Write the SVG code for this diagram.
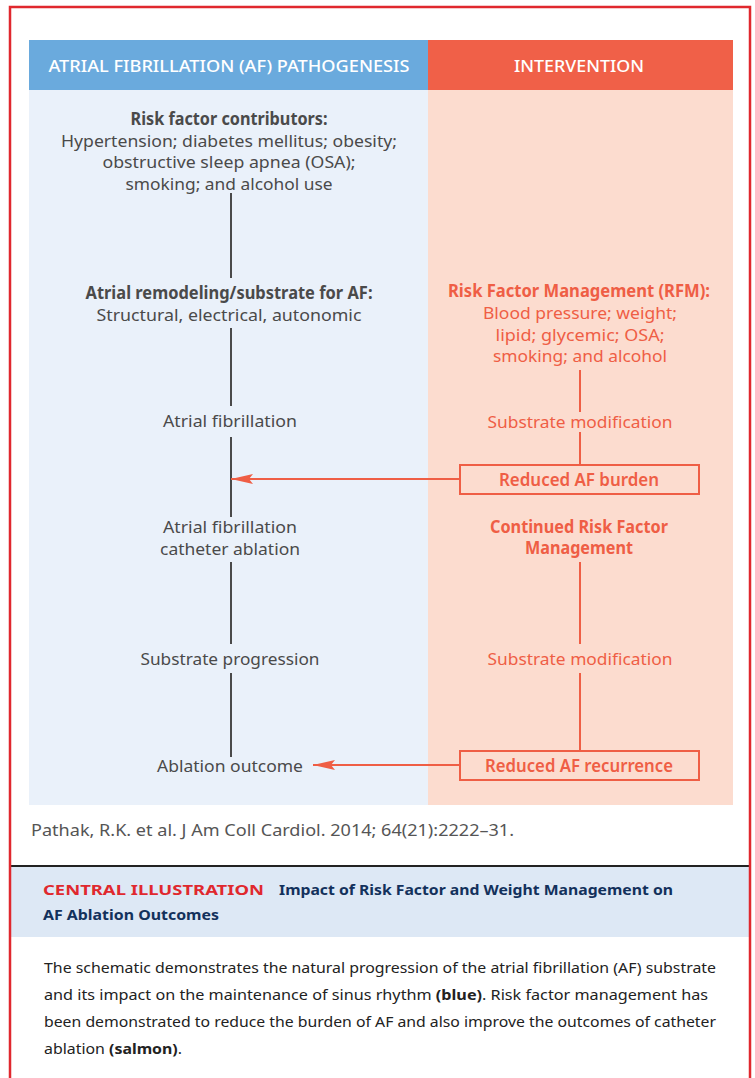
<svg xmlns="http://www.w3.org/2000/svg" width="755" height="1078" viewBox="0 0 755 1078">
<defs>
<style>
text{font-family:"Noto Sans","Open Sans","DejaVu Sans",sans-serif}
.hd{font-size:17px;fill:#fff;text-anchor:middle;font-weight:500}
.g{font-size:17px;fill:#4a4a4a;text-anchor:middle}
.gb{font-weight:bold}
.s{font-size:17px;fill:#ef5e45;text-anchor:middle}
.bx{font-weight:600}
.ln{stroke:#4a4a4a;stroke-width:2;fill:none}
.sl{stroke:#ef5e45;stroke-width:2;fill:none}
.box{stroke:#ef5e45;stroke-width:2;fill:none}
.cap{font-size:15px;fill:#222}
</style>
<marker id="ah" viewBox="0 0 22 10" refX="22" refY="5" markerWidth="22" markerHeight="10" markerUnits="userSpaceOnUse" orient="auto">
<path d="M0,0 L22,5 L0,10 L4,5 Z" fill="#ef5e45"/>
</marker>
</defs>
<rect width="755" height="1078" fill="#fff"/>
<g id="panels">
<rect x="29" y="90" width="399" height="715" fill="#eaf1fa"/>
<rect x="428" y="90" width="305" height="715" fill="#fcdccf"/>
<rect x="29" y="40" width="399" height="50" fill="#6aaadd"/>
<rect x="428" y="40" width="305" height="50" fill="#f06048"/>
<text class="hd" x="229" y="72" textLength="361" lengthAdjust="spacingAndGlyphs">ATRIAL FIBRILLATION (AF) PATHOGENESIS</text>
<text class="hd" x="579" y="72" textLength="130" lengthAdjust="spacingAndGlyphs">INTERVENTION</text>
</g>
<g id="connectors">
<line class="ln" x1="231" y1="193" x2="231" y2="278"/>
<line class="ln" x1="231" y1="328" x2="231" y2="406"/>
<line class="ln" x1="231" y1="437" x2="231" y2="517"/>
<line class="ln" x1="231" y1="562" x2="231" y2="644"/>
<line class="ln" x1="231" y1="673" x2="231" y2="757"/>
<line class="sl" x1="580" y1="370" x2="580" y2="412"/>
<line class="sl" x1="580" y1="432" x2="580" y2="465"/>
<line class="sl" x1="580" y1="562" x2="580" y2="644"/>
<line class="sl" x1="580" y1="673" x2="580" y2="751"/>
<line class="sl" x1="460" y1="479" x2="231" y2="479" marker-end="url(#ah)"/>
<line class="sl" x1="460" y1="765" x2="313" y2="765" marker-end="url(#ah)"/>
</g>
<g id="risk-contributors">
<text class="g gb" x="229" y="125" textLength="197" lengthAdjust="spacingAndGlyphs">Risk factor contributors:</text>
<text class="g" x="229" y="147" textLength="336" lengthAdjust="spacingAndGlyphs">Hypertension; diabetes mellitus; obesity;</text>
<text class="g" x="229" y="168" textLength="253" lengthAdjust="spacingAndGlyphs">obstructive sleep apnea (OSA);</text>
<text class="g" x="229" y="190" textLength="207" lengthAdjust="spacingAndGlyphs">smoking; and alcohol use</text>
</g>
<g id="remodeling">
<text class="g gb" x="229" y="299" textLength="287" lengthAdjust="spacingAndGlyphs">Atrial remodeling/substrate for AF:</text>
<text class="g" x="229" y="321" textLength="265" lengthAdjust="spacingAndGlyphs">Structural, electrical, autonomic</text>
</g>
<g id="af">
<text class="g" x="230" y="427" textLength="134" lengthAdjust="spacingAndGlyphs">Atrial fibrillation</text>
</g>
<g id="ablation">
<text class="g" x="230" y="533" textLength="134" lengthAdjust="spacingAndGlyphs">Atrial fibrillation</text>
<text class="g" x="230" y="555" textLength="140" lengthAdjust="spacingAndGlyphs">catheter ablation</text>
</g>
<g id="progression">
<text class="g" x="230" y="665" textLength="179" lengthAdjust="spacingAndGlyphs">Substrate progression</text>
</g>
<g id="outcome">
<text class="g" x="230" y="772" textLength="146" lengthAdjust="spacingAndGlyphs">Ablation outcome</text>
</g>
<g id="rfm">
<text class="s gb" x="579" y="297" textLength="262" lengthAdjust="spacingAndGlyphs">Risk Factor Management (RFM):</text>
<text class="s" x="580" y="319" textLength="194" lengthAdjust="spacingAndGlyphs">Blood pressure; weight;</text>
<text class="s" x="580" y="341" textLength="169" lengthAdjust="spacingAndGlyphs">lipid; glycemic; OSA;</text>
<text class="s" x="580" y="362" textLength="174" lengthAdjust="spacingAndGlyphs">smoking; and alcohol</text>
</g>
<g id="substrate-mod-1">
<text class="s" x="580" y="428" textLength="185" lengthAdjust="spacingAndGlyphs">Substrate modification</text>
</g>
<g id="reduced-burden">
<rect class="box" x="460" y="465" width="239" height="29"/>
<text class="s bx" x="579" y="486" textLength="160" lengthAdjust="spacingAndGlyphs">Reduced AF burden</text>
</g>
<g id="continued-rfm">
<text class="s gb" x="579" y="533" textLength="178" lengthAdjust="spacingAndGlyphs">Continued Risk Factor</text>
<text class="s gb" x="579" y="554" textLength="108" lengthAdjust="spacingAndGlyphs">Management</text>
</g>
<g id="substrate-mod-2">
<text class="s" x="580" y="665" textLength="185" lengthAdjust="spacingAndGlyphs">Substrate modification</text>
</g>
<g id="reduced-recurrence">
<rect class="box" x="460" y="751" width="239" height="29"/>
<text class="s bx" x="579" y="772" textLength="188" lengthAdjust="spacingAndGlyphs">Reduced AF recurrence</text>
</g>
<g id="footer">
<text x="31" y="836" font-size="16" fill="#555" textLength="483" lengthAdjust="spacingAndGlyphs">Pathak, R.K. et al. J Am Coll Cardiol. 2014; 64(21):2222–31.</text>
<rect x="10" y="866" width="741" height="71" fill="#dde8f5"/>
<line x1="10" y1="866" x2="751" y2="866" stroke="#222" stroke-width="2"/>
<text x="43" y="895" font-size="14" font-weight="bold" fill="#e0282e" textLength="221" lengthAdjust="spacingAndGlyphs">CENTRAL ILLUSTRATION</text>
<text x="279" y="895" font-size="15" font-weight="bold" fill="#13315c" textLength="394" lengthAdjust="spacingAndGlyphs">Impact of Risk Factor and Weight Management on</text>
<text x="43" y="920" font-size="15" font-weight="bold" fill="#13315c" textLength="176" lengthAdjust="spacingAndGlyphs">AF Ablation Outcomes</text>
<text class="cap" x="44" y="973" textLength="672" lengthAdjust="spacingAndGlyphs">The schematic demonstrates the natural progression of the atrial fibrillation (AF) substrate</text>
<text class="cap" x="44" y="1000" textLength="664" lengthAdjust="spacingAndGlyphs">and its impact on the maintenance of sinus rhythm <tspan font-weight="bold">(blue)</tspan>. Risk factor management has</text>
<text class="cap" x="44" y="1027" textLength="672" lengthAdjust="spacingAndGlyphs">been demonstrated to reduce the burden of AF and also improve the outcomes of catheter</text>
<text class="cap" x="44" y="1054" textLength="138" lengthAdjust="spacingAndGlyphs">ablation <tspan font-weight="bold">(salmon)</tspan>.</text>
</g>
<rect id="frame" x="10" y="7" width="740" height="1090" fill="none" stroke="#e0282e" stroke-width="2.5"/>
</svg>
